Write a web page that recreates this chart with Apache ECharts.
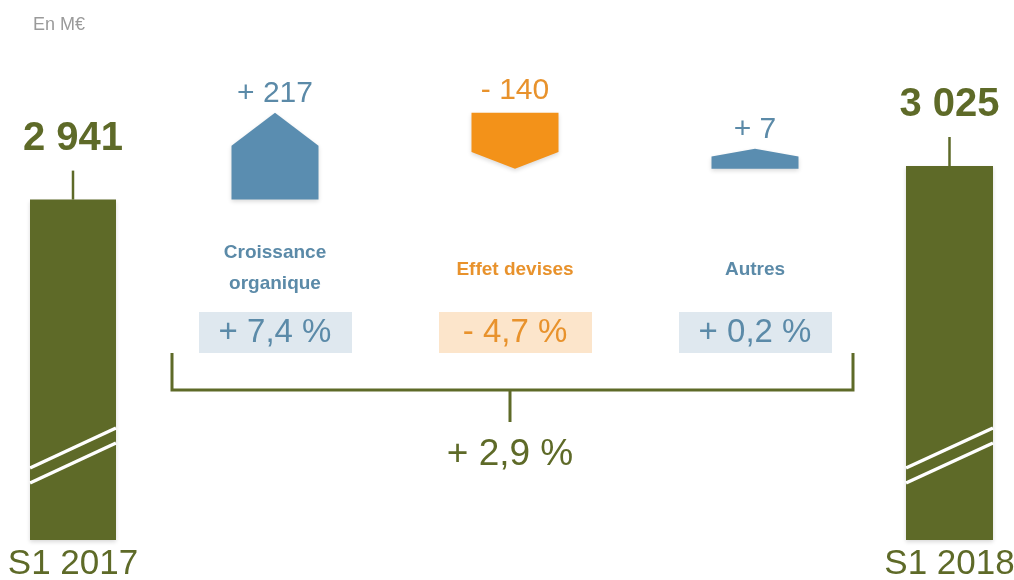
<!DOCTYPE html>
<html>
<head>
<meta charset="utf-8">
<script src="https://cdn.jsdelivr.net/npm/echarts@6/dist/echarts.min.js"></script>
<style>
  html, body { margin: 0; padding: 0; background: #fff; }
  #chart-container { width: 1014px; height: 580px; }
</style>
</head>
<body>
<div id="chart-container"></div>
<script>
// données (M€)
const categories = ["S1 2017", "Croissance\norganique", "Effet devises", "Autres", "S1 2018"];
const totalValues = [2941, 3025];
const totalLabels = ["2 941", "3 025"];
const deltaValues = [217, -140, 7];
const deltaLabels = ["+ 217", "- 140", "+ 7"];
const shareLabels = ["+ 7,4 %", "- 4,7 %", "+ 0,2 %"];
const totalChange = "+ 2,9 %";
const unitLabel = "En M€";

const OLIVE = "#5e6a28";
const BLUE = "#5a8db0";
const BLUE_TEXT = "#5b8aa8";
const ORANGE = "#f39219";
const ORANGE_TEXT = "#e8922c";
const FONT = '"Liberation Sans", Arial, sans-serif';
const Y_MIN = 2090;
const Y_MAX = 3340;

// cascade : début / fin de chaque variation
let running = totalValues[0];
const steps = deltaValues.map((d, i) => {
    const start = running;
    running += d;
    return [i, start, running];
});

function makeTotal(k) {
    return function (params, api) {
        const top = api.coord([0, api.value(1)]);
        const base = api.coord([0, Y_MIN]);
        const w = api.size([1, 0])[0];
        const x0 = top[0] - w / 2;
        const x1 = top[0] + w / 2;
        const b = base[1];
        return {
            type: "group",
            children: [
                {
                    type: "rect", shape: { x: x0, y: top[1], width: w, height: b - top[1] },
                    style: { fill: OLIVE, shadowBlur: 4, shadowOffsetY: 2, shadowColor: "rgba(0,0,0,0.15)" }
                },
                { type: "line", shape: { x1: x0, y1: b - 72, x2: x1, y2: b - 112 }, style: { stroke: "#fff", lineWidth: 3.5 } },
                { type: "line", shape: { x1: x0, y1: b - 57, x2: x1, y2: b - 97 }, style: { stroke: "#fff", lineWidth: 3.5 } },
                { type: "line", shape: { x1: top[0], y1: top[1], x2: top[0], y2: top[1] - 29 }, style: { stroke: OLIVE, lineWidth: 2.5 } },
                {
                    type: "text",
                    style: {
                        text: totalLabels[k], x: top[0], y: top[1] - 61,
                        align: "center", verticalAlign: "middle",
                        fontSize: 40, fontWeight: "bold", fontFamily: FONT, fill: OLIVE
                    }
                }
            ]
        };
    };
}

function renderStep(params, api) {
    const i = api.value(0);
    const p0 = api.coord([i, api.value(1)]);
    const up = api.value(2) > api.value(1);
    let yEnd = api.coord([i, api.value(2)])[1];
    const y0 = p0[1];
    if (Math.abs(yEnd - y0) < 20) yEnd = y0 + (up ? -20 : 20);
    const cx = p0[0];
    const hw = 43.5;
    const head = Math.abs(yEnd - y0) * (up ? 0.38 : 0.3);
    const color = up ? BLUE : ORANGE;
    const txt = up ? BLUE_TEXT : ORANGE_TEXT;
    const shoulder = up ? yEnd + head : yEnd - head;
    const points = [[cx - hw, y0], [cx + hw, y0], [cx + hw, shoulder], [cx, yEnd], [cx - hw, shoulder]];
    const labelY = up ? yEnd - 19 : y0 - 22;
    const lines = categories[i + 1].split("\n");
    return {
        type: "group",
        children: [
            {
                type: "polygon", shape: { points: points },
                style: { fill: color, shadowBlur: 4, shadowOffsetY: 2, shadowColor: "rgba(0,0,0,0.15)" }
            },
            {
                type: "text",
                style: {
                    text: deltaLabels[i], x: cx, y: labelY, align: "center", verticalAlign: "middle",
                    fontSize: 30, fontFamily: FONT, fill: txt
                }
            },
            {
                type: "text",
                style: {
                    text: categories[i + 1], x: cx, y: lines.length > 1 ? 268 : 270,
                    align: "center", verticalAlign: "middle", lineHeight: 31,
                    fontSize: 19, fontWeight: "bold", fontFamily: FONT, fill: txt
                }
            },
            {
                type: "rect",
                shape: { x: cx - 76, y: 312, width: 153, height: 41 },
                style: { fill: up ? "#dfe8ef" : "#fce5cb" }
            },
            {
                type: "text",
                style: {
                    text: shareLabels[i], x: cx, y: 333, align: "center", verticalAlign: "middle",
                    fontSize: 33, fontFamily: FONT, fill: txt
                }
            }
        ]
    };
}

const chart = echarts.init(document.getElementById("chart-container"));

const yAxisBase = { type: "value", min: Y_MIN, max: Y_MAX, show: false };
const xLabel = { fontSize: 35, color: OLIVE, fontFamily: FONT, margin: 7 };

const options = {
    animation: false,
    title: {
        text: unitLabel, left: 28, top: 11,
        textStyle: { fontSize: 18, fontWeight: "normal", color: "#9a9a9a", fontFamily: FONT }
    },
    grid: [
        { left: 30, width: 86, top: 40, bottom: 40, outerBoundsMode: "none", containLabel: false },
        { left: 155, width: 720, top: 40, bottom: 40, outerBoundsMode: "none", containLabel: false },
        { left: 906, width: 87, top: 40, bottom: 40, outerBoundsMode: "none", containLabel: false }
    ],
    xAxis: [
        { type: "category", gridIndex: 0, data: [categories[0]], axisLine: { show: false }, axisTick: { show: false }, axisLabel: xLabel },
        { type: "category", gridIndex: 1, data: categories.slice(1, 4), show: false },
        { type: "category", gridIndex: 2, data: [categories[4]], axisLine: { show: false }, axisTick: { show: false }, axisLabel: xLabel }
    ],
    yAxis: [
        Object.assign({ gridIndex: 0 }, yAxisBase),
        Object.assign({ gridIndex: 1 }, yAxisBase),
        Object.assign({ gridIndex: 2 }, yAxisBase)
    ],
    series: [
        { type: "custom", xAxisIndex: 0, yAxisIndex: 0, renderItem: makeTotal(0), data: [[0, totalValues[0]]] },
        { type: "custom", xAxisIndex: 1, yAxisIndex: 1, renderItem: renderStep, data: steps },
        { type: "custom", xAxisIndex: 2, yAxisIndex: 2, renderItem: makeTotal(1), data: [[0, totalValues[1]]] }
    ],
    graphic: [
        {
            type: "polyline",
            shape: { points: [[172, 353], [172, 390], [853, 390], [853, 353]] },
            style: { stroke: OLIVE, lineWidth: 3, fill: null }
        },
        { type: "line", shape: { x1: 510, y1: 390, x2: 510, y2: 422 }, style: { stroke: OLIVE, lineWidth: 3 } },
        {
            type: "text", x: 510, y: 455,
            style: {
                text: totalChange, align: "center", verticalAlign: "middle",
                fontSize: 37, fontFamily: FONT, fill: OLIVE
            }
        }
    ]
};

chart.setOption(options);
</script>
</body>
</html>
